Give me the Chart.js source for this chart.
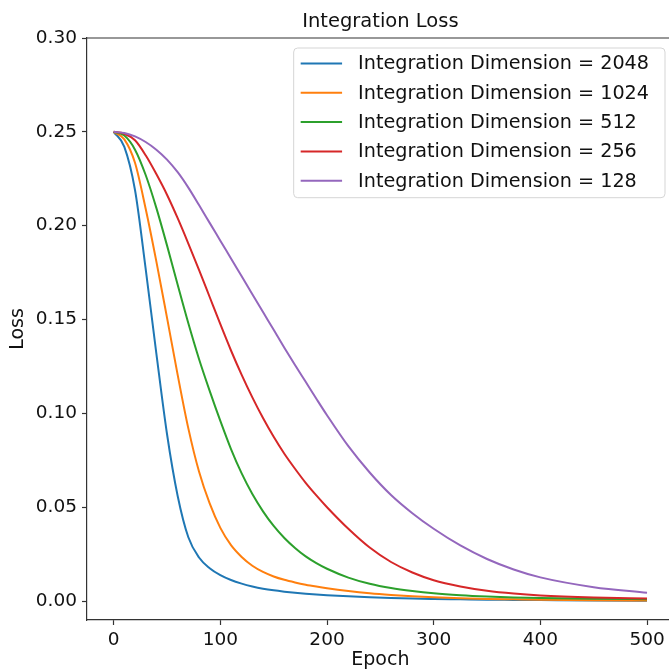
<!DOCTYPE html>
<html>
<head>
<meta charset="utf-8">
<script src="https://cdn.jsdelivr.net/npm/chart.js@4.4.1/dist/chart.umd.min.js"></script>
<style>
  html, body { margin: 0; padding: 0; background: #fff; overflow: hidden; width: 669px; height: 671px; }
  #wrap { position: absolute; left: 0; top: 0; }
</style>
</head>
<body>
<div id="wrap"><canvas id="c" width="680" height="671"></canvas></div>
<script>
const epochs = [0,10,20,30,40,50,60,70,80,90,100,110,120,130,140,150,160,170,180,190,200,220,240,260,280,300,325,350,375,400,450,500];
const loss2048 = [0.2500,0.2420,0.2190,0.1770,0.1320,0.0890,0.0560,0.0340,0.0232,0.0175,0.0138,0.0112,0.0093,0.0078,0.0066,0.0057,0.0050,0.0044,0.0039,0.0035,0.0031,0.0025,0.0020,0.0016,0.0013,0.0011,0.0009,0.0007,0.0006,0.0005,0.0003,0.0002];
const loss1024 = [0.2500,0.2460,0.2335,0.2090,0.1810,0.1510,0.1205,0.0920,0.0690,0.0520,0.0390,0.0298,0.0235,0.0188,0.0155,0.0131,0.0113,0.0099,0.0087,0.0077,0.0068,0.0053,0.0041,0.0032,0.0025,0.0020,0.0015,0.0011,0.0009,0.0007,0.0004,0.0003];
const loss512 = [0.2500,0.2480,0.2405,0.2270,0.2095,0.1895,0.1685,0.1480,0.1290,0.1120,0.0960,0.0810,0.0680,0.0570,0.0478,0.0400,0.0336,0.0283,0.0238,0.0202,0.0172,0.0125,0.0092,0.0069,0.0053,0.0041,0.0031,0.0024,0.0019,0.0016,0.0012,0.0010];
const loss256 = [0.2500,0.2490,0.2455,0.2375,0.2275,0.2165,0.2040,0.1905,0.1765,0.1620,0.1475,0.1335,0.1205,0.1085,0.0975,0.0875,0.0785,0.0705,0.0630,0.0563,0.0500,0.0385,0.0285,0.0208,0.0152,0.0111,0.0078,0.0055,0.0040,0.0030,0.0019,0.0013];
const loss128 = [0.2500,0.2494,0.2476,0.2446,0.2405,0.2352,0.2285,0.2203,0.2110,0.2015,0.1920,0.1825,0.1730,0.1635,0.1540,0.1445,0.1350,0.1258,0.1168,0.1078,0.0990,0.0825,0.0685,0.0565,0.0468,0.0385,0.0296,0.0224,0.0168,0.0126,0.0074,0.0044];
const seriesLabels = ['Integration Dimension = 2048','Integration Dimension = 1024','Integration Dimension = 512','Integration Dimension = 256','Integration Dimension = 128'];
const seriesColors = ['#1f77b4','#ff7f0e','#2ca02c','#d62728','#9467bd'];
const xTicks = [0,100,200,300,400,500];
const yTicks = [0.00,0.05,0.10,0.15,0.20,0.25,0.30];
const titleText = 'Integration Loss';
const xTitle = 'Epoch';
const yTitle = 'Loss';

const FONT = "'DejaVu Sans', sans-serif";
const allSeries = [loss2048, loss1024, loss512, loss256, loss128];
const datasets = allSeries.map((arr, i) => ({
  label: seriesLabels[i],
  data: epochs.map((e, j) => ({x: e, y: arr[j]})),
  borderColor: seriesColors[i],
  backgroundColor: seriesColors[i],
  borderWidth: 2,
  pointRadius: 0,
  fill: false,
  cubicInterpolationMode: 'monotone',
  order: allSeries.length - i
}));

const boxPlugin = {
  id: 'boxAndLegend',
  afterDraw(chart) {
    const ctx = chart.ctx;
    const a = chart.chartArea;
    ctx.save();
    ctx.strokeStyle = '#333';
    ctx.lineWidth = 1.2;
    ctx.beginPath();
    ctx.moveTo(a.left, a.top);
    ctx.lineTo(a.right, a.top);
    ctx.stroke();
    const fs = 19.2;
    ctx.font = fs + 'px ' + FONT;
    let maxW = 0;
    chart.data.datasets.forEach(d => { maxW = Math.max(maxW, ctx.measureText(d.label).width); });
    const textOff = 64.4, rowH = 29.3, firstRow = 15.5;
    const n = chart.data.datasets.length;
    const w = textOff + maxW + 16;
    const h = firstRow + rowH * (n - 1) + 17;
    const right = a.right - 8.7;
    const left = right - w;
    const top = a.top + 10;
    const r = 4;
    ctx.beginPath();
    ctx.moveTo(left + r, top);
    ctx.lineTo(left + w - r, top);
    ctx.arcTo(left + w, top, left + w, top + r, r);
    ctx.lineTo(left + w, top + h - r);
    ctx.arcTo(left + w, top + h, left + w - r, top + h, r);
    ctx.lineTo(left + r, top + h);
    ctx.arcTo(left, top + h, left, top + h - r, r);
    ctx.lineTo(left, top + r);
    ctx.arcTo(left, top, left + r, top, r);
    ctx.closePath();
    ctx.fillStyle = 'rgba(255,255,255,0.8)';
    ctx.fill();
    ctx.strokeStyle = '#d5d5d5';
    ctx.lineWidth = 1;
    ctx.stroke();
    ctx.textBaseline = 'middle';
    ctx.textAlign = 'left';
    chart.data.datasets.forEach((d, i) => {
      const y = top + firstRow + i * rowH;
      ctx.strokeStyle = d.borderColor;
      ctx.lineWidth = 2;
      ctx.beginPath();
      ctx.moveTo(left + 7, y);
      ctx.lineTo(left + 48.4, y);
      ctx.stroke();
      ctx.fillStyle = '#111';
      ctx.fillText(d.label, left + textOff, y + 1);
    });
    ctx.restore();
  }
};

new Chart(document.getElementById('c'), {
  type: 'line',
  data: { datasets },
  plugins: [boxPlugin],
  options: {
    responsive: false,
    animation: false,
    layout: { padding: { left: 0, right: 6.3, top: 0, bottom: 0 } },
    plugins: {
      legend: { display: false },
      tooltip: { enabled: false },
      title: {
        display: true,
        fullSize: false,
        text: titleText,
        color: '#111',
        font: { family: FONT, size: 19.5, weight: 'normal' },
        padding: { top: 10.3, bottom: 4.3 }
      }
    },
    scales: {
      x: {
        type: 'linear',
        min: -25, max: 525,
        afterBuildTicks: s => { s.ticks = xTicks.map(v => ({ value: v })); },
        afterFit: s => { s.height = 51; },
        grid: { display: true, drawOnChartArea: false, drawTicks: true, tickLength: 5, color: '#333', tickWidth: 1.2 },
        border: { display: true, color: '#333', width: 1.2 },
        ticks: { color: '#111', font: { family: FONT, size: 18.5 }, padding: 4, maxRotation: 0, callback: v => String(v) },
        title: { display: true, text: xTitle, color: '#111', font: { family: FONT, size: 19 }, padding: { top: 0, bottom: 0 } }
      },
      y: {
        type: 'linear',
        min: -0.0101, max: 0.30,
        afterBuildTicks: s => { s.ticks = yTicks.map(v => ({ value: v })); },
        afterFit: s => { s.width = 87; },
        grid: { display: true, drawOnChartArea: false, drawTicks: true, tickLength: 5, color: '#333', tickWidth: 1.2 },
        border: { display: true, color: '#333', width: 1.2 },
        ticks: { color: '#111', font: { family: FONT, size: 18.5 }, padding: 5, callback: v => Number(v).toFixed(2) },
        title: { display: true, text: yTitle, color: '#111', font: { family: FONT, size: 19 }, padding: { top: 7, bottom: 0 } }
      }
    }
  }
});
</script>
</body>
</html>
